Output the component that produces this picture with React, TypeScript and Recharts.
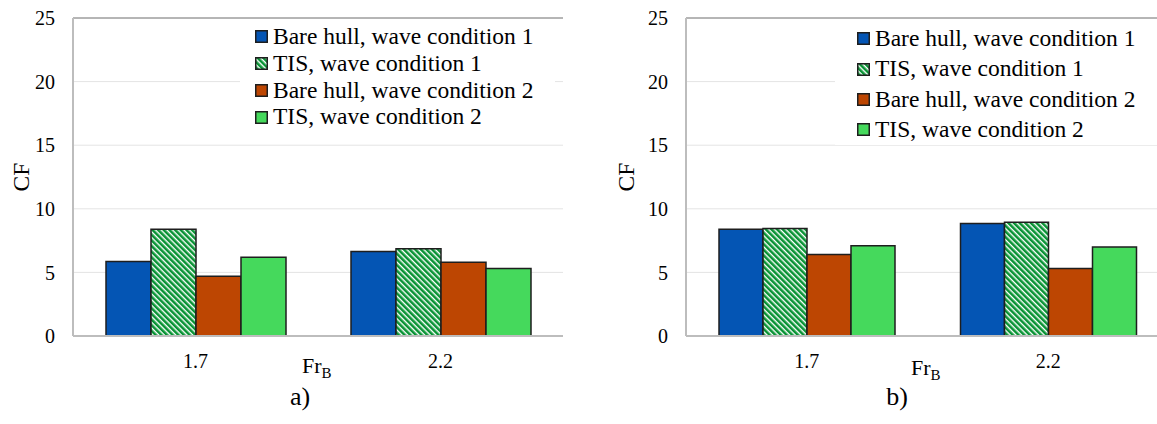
import React from "react";
import {
  BarChart,
  Bar,
  XAxis,
  YAxis,
  CartesianGrid,
  ReferenceLine,
} from "recharts";

// Froude number categories shared by both panels
const categories = ["1.7", "2.2"];
const seriesNames = [
  "Bare hull, wave condition 1",
  "TIS, wave condition 1",
  "Bare hull, wave condition 2",
  "TIS, wave condition 2",
];
const yTicks = [0, 5, 10, 15, 20, 25];

// panel a)
const bareHull1A = [5.85, 6.65];
const tis1A = [8.4, 6.85];
const bareHull2A = [4.7, 5.8];
const tis2A = [6.2, 5.3];

// panel b)
const bareHull1B = [8.4, 8.85];
const tis1B = [8.45, 8.95];
const bareHull2B = [6.4, 5.3];
const tis2B = [7.1, 7.0];

const FONT = '"Liberation Serif", "Times New Roman", serif';
const BLUE = "#0455b4";
const HATCH_GREEN = "#089334";
const ORANGE = "#bd4602";
const LIGHT_GREEN = "#45d95c";
const EDGE = "#1e1e1e";

const seriesFills = (hatchId: string) => [BLUE, `url(#${hatchId})`, ORANGE, LIGHT_GREEN];
const seriesKeys = ["bh1", "tis1", "bh2", "tis2"];

const toRows = (bh1: number[], tis1: number[], bh2: number[], tis2: number[]) =>
  categories.map((fr, i) => ({ fr, bh1: bh1[i], tis1: tis1[i], bh2: bh2[i], tis2: tis2[i] }));

// diagonal green/white stripes for the TIS, wave condition 1 series
const HatchDef = ({ id }: { id: string }) => (
  <pattern id={id} width={4} height={4} patternUnits="userSpaceOnUse" patternTransform="rotate(-45)">
    <rect width={4} height={4} fill="#ffffff" />
    <rect width={2.6} height={4} fill={HATCH_GREEN} />
  </pattern>
);

type LegendProps = { left: number; top: number; width: number; rowHeight: number; padLeft: number; hatchId: string };

const LegendBox = ({ left, top, width, rowHeight, padLeft, hatchId }: LegendProps) => (
  <div
    style={{
      position: "absolute",
      left,
      top,
      width,
      background: "#fff",
      paddingLeft: padLeft,
      boxSizing: "border-box",
      fontFamily: FONT,
      fontSize: 23.5,
      color: "#000",
    }}
  >
    {seriesNames.map((name, i) => (
      <div key={name} style={{ display: "flex", alignItems: "center", height: rowHeight }}>
        <svg width={13} height={13} style={{ flex: "none" }}>
          <rect x={0.75} y={0.75} width={11.5} height={11.5} fill={seriesFills(hatchId)[i]} stroke={EDGE} strokeWidth={1.5} />
        </svg>
        <span style={{ marginLeft: 5, lineHeight: 1, whiteSpace: "nowrap" }}>{name}</span>
      </div>
    ))}
  </div>
);

type PanelProps = {
  rows: ReturnType<typeof toRows>;
  width: number;
  axisWidth: number;
  marginRight: number;
  hatchId: string;
};

const tickStyle = { fontFamily: FONT, fontSize: 20, fill: "#000" };

const Panel = (p: PanelProps) => (
  <BarChart
    width={p.width}
    height={424}
    data={p.rows}
    margin={{ top: 18, right: p.marginRight, bottom: 58, left: 0 }}
    barCategoryGap={33}
    barGap={0}
    style={{ fontFamily: FONT }}
  >
    <defs>
      <HatchDef id={p.hatchId} />
    </defs>
    <CartesianGrid vertical={false} stroke="#e4e4e4" />
    <XAxis
      dataKey="fr"
      height={30}
      axisLine={{ stroke: "#bdbdbd", strokeWidth: 2 }}
      tickLine={false}
      tickSize={0}
      tickMargin={18}
      tick={tickStyle}
    />
    <YAxis
      width={p.axisWidth}
      domain={[0, 25]}
      ticks={yTicks}
      interval={0}
      axisLine={{ stroke: "#bdbdbd", strokeWidth: 2 }}
      tickLine={false}
      tickSize={0}
      tickMargin={18}
      tick={tickStyle}
    />
    <YAxis
      yAxisId="frame"
      orientation="right"
      width={0}
      domain={[0, 25]}
      tick={false}
      tickLine={false}
      axisLine={{ stroke: "#a6a6a6" }}
    />
    <ReferenceLine y={25} stroke="#7a7a7a" />
    {seriesKeys.map((key, i) => (
      <Bar
        key={key}
        dataKey={key}
        name={seriesNames[i]}
        fill={seriesFills(p.hatchId)[i]}
        stroke={EDGE}
        strokeWidth={1.5}
        isAnimationActive={false}
      />
    ))}
  </BarChart>
);

// axis titles and panel captions
const Captions = () => (
  <svg width={1157} height={424} style={{ position: "absolute", left: 0, top: 0, pointerEvents: "none" }}>
    <g fontFamily={FONT} fill="#000">
      <text x={29} y={177} fontSize={23.5} textAnchor="middle" transform="rotate(-90 29 177)">CF</text>
      <text x={634} y={177} fontSize={23.5} textAnchor="middle" transform="rotate(-90 634 177)">CF</text>
      <text x={302} y={373} fontSize={22}>
        Fr<tspan fontSize={15} dy={5}>B</tspan>
      </text>
      <text x={911} y={375} fontSize={22}>
        Fr<tspan fontSize={15} dy={5}>B</tspan>
      </text>
      <text x={300} y={405} fontSize={26} textAnchor="middle">a)</text>
      <text x={897} y={405} fontSize={26} textAnchor="middle">b)</text>
    </g>
  </svg>
);

export default function App() {
  return (
    <div
      style={{
        position: "fixed",
        left: 0,
        top: 0,
        width: 1157,
        height: 424,
        overflow: "hidden",
        background: "#fff",
        fontFamily: FONT,
      }}
    >
      <div style={{ position: "absolute", left: 0, top: 0 }}>
        <Panel rows={toRows(bareHull1A, tis1A, bareHull2A, tis2A)} width={580} axisWidth={73} marginRight={17} hatchId="tisHatchA" />
      </div>
      <div style={{ position: "absolute", left: 580, top: 0 }}>
        <Panel rows={toRows(bareHull1B, tis1B, bareHull2B, tis2B)} width={600} axisWidth={106} marginRight={11} hatchId="tisHatchB" />
      </div>
      <LegendBox left={240} top={23.6} width={315} rowHeight={26.7} padLeft={15} hatchId="tisHatchA" />
      <LegendBox left={835} top={23.8} width={322} rowHeight={30.3} padLeft={22} hatchId="tisHatchB" />
      <Captions />
    </div>
  );
}
